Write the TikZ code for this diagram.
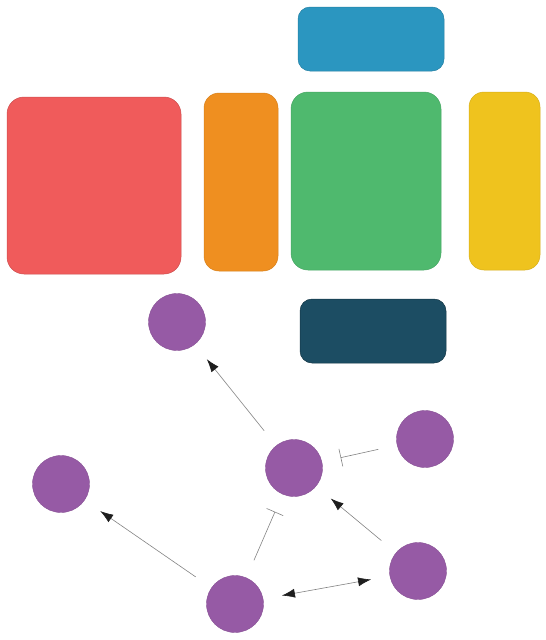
\documentclass[tikz,border=0pt]{standalone}
\usepackage{xcolor}
\usepackage{tikz}
\usetikzlibrary{
  shapes.geometric,
  arrows.meta,
  positioning
}
\definecolor{CoralRed}{RGB}{240, 91, 91}
\definecolor{DeepOrange}{RGB}{239, 143, 32}
\definecolor{LeafGreen}{RGB}{79, 185, 110}
\definecolor{SunYellow}{RGB}{239, 195, 30}
\definecolor{SkyBlue}{RGB}{43, 150, 192}
\definecolor{DarkTeal}{RGB}{28, 77, 99}
\definecolor{Plum}{RGB}{150, 90, 165}
\definecolor{LinkGray}{RGB}{130, 130, 130}
\definecolor{TipBlack}{RGB}{30, 30, 30}
\tikzset{
    block/.style={rectangle, rounded corners=15pt, inner sep=0pt, line width=0.5pt},
    dot/.style={circle, fill=Plum, draw=Plum!90!black, line width=0.4pt, minimum size=57pt, inner sep=0pt},
    link/.style={draw=LinkGray, line width=0.6pt, shorten <=19pt, shorten >=19pt},
    push/.style={link, -{Latex[length=13pt, width=9pt, color=TipBlack]}},
    both/.style={link, {Latex[length=13pt, width=9pt, color=TipBlack]}-{Latex[length=13pt, width=9pt, color=TipBlack]}},
    stop/.style={link, -{Bar[width=18pt]}}
}

\begin{document}
\begin{tikzpicture}[x=1pt, y=-1pt]
    \useasboundingbox (0,0) rectangle (546,640);
    % top row of blocks
    \node[block, fill=SkyBlue, draw=SkyBlue!85!black, minimum width=146pt, minimum height=64pt, rounded corners=12pt] (skyblock) at (371,39) {};
    \node[block, fill=CoralRed, draw=CoralRed!85!black, minimum width=174pt, minimum height=177pt, rounded corners=17pt] (redblock) at (94,185.5) {};
    \node[block, fill=DeepOrange, draw=DeepOrange!90!black, minimum width=74pt, minimum height=178pt] (orangeblock) at (241,182) {};
    \node[block, fill=LeafGreen, draw=LeafGreen!90!black, minimum width=150pt, minimum height=178pt, rounded corners=17pt] (greenblock) at (366,181) {};
    \node[block, fill=SunYellow, draw=SunYellow!90!black, minimum width=71pt, minimum height=178pt] (yellowblock) at (504.5,181) {};
    \node[block, fill=DarkTeal, draw=DarkTeal!70!black, minimum width=146pt, minimum height=64pt, rounded corners=12pt] (tealblock) at (373,331) {};
    % network
    \node[dot] (topdot) at (177,322) {};
    \node[dot] (leftdot) at (61,484) {};
    \node[dot] (middot) at (294,468) {};
    \node[dot] (eastdot) at (425,439) {};
    \node[dot] (southeastdot) at (418,571) {};
    \node[dot] (bottomdot) at (235,604) {};
    \draw[push] (middot) -- (topdot);
    \draw[push] (bottomdot) -- (leftdot);
    \draw[stop] (bottomdot) -- (middot);
    \draw[stop] (eastdot) -- (middot);
    \draw[push] (southeastdot) -- (middot);
    \draw[both] (bottomdot) -- (southeastdot);
\end{tikzpicture}
\end{document}
